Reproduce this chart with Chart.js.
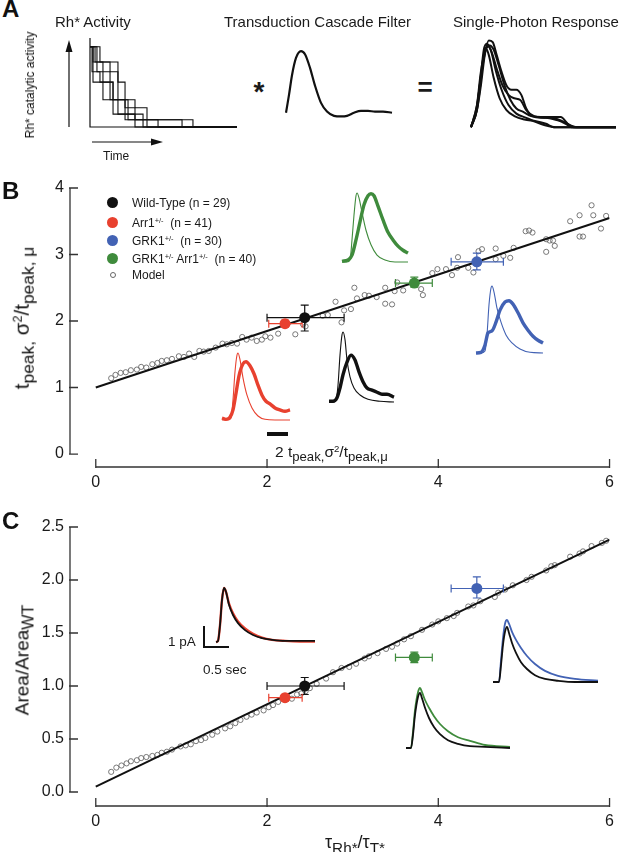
<!DOCTYPE html>
<html>
<head>
<meta charset="utf-8">
<script src="https://cdn.jsdelivr.net/npm/chart.js@4.4.1/dist/chart.umd.min.js"></script>
<style>
  body { margin:0; width:620px; height:852px; position:relative; overflow:hidden; background:#fff;
         font-family:"Liberation Sans", Arial, Helvetica, sans-serif; color:#1a1a1a;
         -webkit-font-smoothing:antialiased; }
  canvas { position:absolute; }
  .t { position:absolute; white-space:nowrap; line-height:1; }
  .panel { font-weight:bold; font-size:24px; color:#111; }
  .ctr { transform: translate(-50%,-50%); }
  .rot { transform: translate(-50%,-50%) rotate(-90deg); color:#111; will-change:transform; }
  sub { font-size:0.85em; vertical-align:-0.3em; line-height:0; }
  sup { font-size:0.62em; vertical-align:0.55em; line-height:0; }
  .dot { position:absolute; width:11px; height:11px; border-radius:50%; }
</style>
</head>
<body>

<canvas id="a1" width="192" height="125" style="left:55px;top:28px"></canvas>
<canvas id="a2" width="114" height="85" style="left:282px;top:41px"></canvas>
<canvas id="a3" width="153" height="105" style="left:467px;top:33px"></canvas>

<canvas id="chartB" width="620" height="330" style="left:0;top:170px"></canvas>
<canvas id="insBred" width="78" height="77" style="left:217px;top:348px"></canvas>
<canvas id="insBblack" width="75" height="80" style="left:324px;top:327px"></canvas>
<canvas id="insBgreen" width="76" height="79" style="left:337px;top:188px"></canvas>
<canvas id="insBblue" width="77" height="77" style="left:471px;top:281px"></canvas>

<canvas id="chartC" width="620" height="330" style="left:0;top:510px"></canvas>
<canvas id="insCred" width="109" height="64" style="left:211px;top:583px"></canvas>
<canvas id="insCblue" width="115" height="72" style="left:488px;top:615px"></canvas>
<canvas id="insCgreen" width="114" height="70" style="left:401px;top:683px"></canvas>

<!-- panel A text -->
<div class="t panel" style="left:2px;top:-3px">A</div>
<div class="t" style="left:55px;top:14px;font-size:15px">Rh* Activity</div>
<div class="t" style="left:224px;top:14px;font-size:15px">Transduction Cascade Filter</div>
<div class="t" style="left:453px;top:14px;font-size:15px">Single-Photon Response</div>
<div class="t rot" style="left:30px;top:85px;font-size:12px">Rh* catalytic activity</div>
<div class="t" style="left:103px;top:150px;font-size:12px">Time</div>
<div class="t ctr" style="left:259px;top:92px;font-size:28px;font-weight:bold">*</div>
<div class="t ctr" style="left:425px;top:87px;font-size:26px;font-weight:bold">=</div>

<!-- panel B text -->
<div class="t panel" style="left:2px;top:179px">B</div>
<div class="t rot" style="left:22px;top:318px;font-size:20.5px">t<sub>peak,</sub> σ<sup>2</sup>/t<sub>peak, μ</sub></div>
<div class="dot" style="left:107px;top:197px;background:#111"></div>
<div class="dot" style="left:107px;top:217px;background:#e8412f"></div>
<div class="dot" style="left:107px;top:235px;background:#4262b4"></div>
<div class="dot" style="left:107px;top:253px;background:#3f8b3c"></div>
<div class="dot" style="left:110px;top:272px;width:4px;height:4px;border:1px solid #666;background:none"></div>
<div class="t" style="left:132px;top:197px;font-size:12px">Wild-Type (n = 29)</div>
<div class="t" style="left:132px;top:217px;font-size:12px">Arr1<sup>+/-</sup>&nbsp; (n = 41)</div>
<div class="t" style="left:132px;top:235px;font-size:12px">GRK1<sup>+/-</sup>&nbsp; (n = 30)</div>
<div class="t" style="left:132px;top:253px;font-size:12px">GRK1<sup>+/-</sup> Arr1<sup>+/-</sup>&nbsp; (n = 40)</div>
<div class="t" style="left:132px;top:269px;font-size:12px">Model</div>
<div style="position:absolute;left:267px;top:432px;width:21px;height:3.5px;background:#111"></div>
<div class="t" style="left:275px;top:444px;font-size:15.5px">2 t<sub>peak,</sub>σ<sup>2</sup>/t<sub>peak,μ</sub></div>

<!-- panel C text -->
<div class="t panel" style="left:2px;top:509px">C</div>
<div class="t rot" style="left:22px;top:660px;font-size:19px">Area/Area<sub>WT</sub></div>
<div class="t ctr" style="left:355px;top:842px;font-size:18px">τ<sub>Rh*</sub>/τ<sub>T*</sub></div>
<div style="position:absolute;left:203px;top:626px;width:2px;height:22px;background:#111"></div>
<div style="position:absolute;left:203px;top:646px;width:26px;height:2px;background:#111"></div>
<div class="t" style="left:168px;top:635px;font-size:13.5px">1 pA</div>
<div class="t" style="left:203px;top:663px;font-size:13.5px">0.5 sec</div>

<script>
// ---------- data ----------
// panel A: Rh* activity step traces (time, level)
const stepT = [
  [0, 0.25, 1.08, 1.92, 2.92, 8.58, 12.25],
  [0, 0.58, 1.67, 3.17, 4.42, 7.67, 12.25],
  [0, 0.83, 2.33, 2.92, 3.75, 5.67, 12.25],
  [0, 0.17, 0.83, 1.92, 2.33, 3.75, 12.25],
  [0, 0.42, 1.67, 2.33, 3.75, 4.75, 12.25],
  [0, 0.25, 1.08, 1.92, 3.17, 4.42, 12.25]
];
const stepL = [
  [1, 0.81, 0.56, 0.34, 0.09, 0, 0],
  [1, 0.69, 0.34, 0.16, 0.09, 0, 0],
  [1, 0.81, 0.56, 0.24, 0.09, 0, 0],
  [1, 0.69, 0.56, 0.34, 0.16, 0, 0],
  [1, 0.81, 0.69, 0.34, 0.24, 0, 0],
  [1, 0.56, 0.34, 0.16, 0.09, 0, 0]
];
// transduction cascade filter
const filterT = [0, 3, 6, 10, 15, 19, 24, 29, 35, 41, 48, 55, 61, 68, 75, 82, 89, 97, 106];
const filterV = [0, 0.29, 0.61, 0.89, 1.0, 0.95, 0.73, 0.44, 0.16, 0.02, -0.05, -0.06, -0.05, 0, 0.03, 0.03, 0.02, 0.02, 0];
// single-photon responses
const sprT = [
  [0, 6, 10, 14, 18, 22, 26, 31, 36, 41, 46, 51, 56, 62, 71, 81, 91, 98, 104, 147],
  [0, 6, 10, 13, 16, 20, 25, 31, 38, 46, 56, 66, 76, 86, 147],
  [0, 6, 10, 13, 15, 18, 23, 29, 36, 44, 54, 66, 76, 84, 147],
  [0, 6, 10, 14, 17, 21, 26, 32, 38, 44, 50, 56, 64, 76, 88, 96, 102, 147],
  [0, 6, 11, 15, 19, 23, 28, 34, 40, 46, 53, 61, 71, 81, 91, 101, 107, 147]
];
const sprV = [
  [0, 0.2, 0.49, 0.85, 1.02, 1.0, 0.85, 0.65, 0.49, 0.44, 0.44, 0.38, 0.22, 0.13, 0.12, 0.12, 0.12, 0.04, 0, 0],
  [0, 0.22, 0.61, 0.91, 0.98, 0.91, 0.67, 0.44, 0.26, 0.16, 0.11, 0.06, 0.02, 0, 0],
  [0, 0.2, 0.55, 0.85, 0.93, 0.85, 0.58, 0.34, 0.2, 0.13, 0.09, 0.07, 0.04, 0, 0],
  [0, 0.26, 0.65, 0.88, 0.95, 0.88, 0.69, 0.49, 0.38, 0.34, 0.32, 0.2, 0.13, 0.11, 0.08, 0.04, 0, 0],
  [0, 0.25, 0.67, 0.91, 0.96, 0.91, 0.73, 0.49, 0.32, 0.22, 0.18, 0.13, 0.11, 0.11, 0.08, 0.02, 0, 0]
];

// panels B and C: groups
const groups = ['Wild-Type', 'Arr1+/-', 'GRK1+/-', 'GRK1+/- Arr1+/-'];
const groupColors = ['#111111', '#e8412f', '#4262b4', '#3f8b3c'];
const tauRatio = [2.44, 2.21, 4.45, 3.72];
const tauLo = [2.00, 2.02, 4.15, 3.50];
const tauHi = [2.90, 2.41, 4.76, 3.93];
const tpeakVal = [2.05, 1.96, 2.89, 2.57];
const tpeakLo = [1.85, 1.91, 2.77, 2.51];
const tpeakHi = [2.24, 2.01, 3.02, 2.66];
const areaVal = [1.00, 0.89, 1.92, 1.27];
const areaLo = [0.92, 0.86, 1.83, 1.22];
const areaHi = [1.08, 0.92, 2.03, 1.32];

// model simulations
const modelBx = [0.18, 0.23, 0.29, 0.35, 0.41, 0.48, 0.53, 0.59, 0.66, 0.72, 0.77, 0.83, 0.89, 0.97, 1.03, 1.09, 1.15, 1.21, 1.26, 1.32, 1.40, 1.48, 1.53, 1.59, 1.65, 1.71, 1.76, 1.82, 1.88, 1.94, 1.98, 2.04, 2.13, 2.33, 2.42,
  2.45, 2.65, 2.71, 2.87, 2.80, 2.90, 2.98, 3.02, 3.05, 3.14, 3.19, 3.28, 3.38, 3.38, 3.46, 3.49, 3.59, 3.52, 3.80, 3.82, 3.93, 3.99, 4.09, 4.16, 4.23, 4.22, 4.35, 4.41, 4.47, 4.51, 4.67, 4.67, 4.76, 4.84, 4.88, 5.02, 5.06, 5.10, 5.26, 5.30, 5.34, 5.26, 5.36, 5.54, 5.65, 5.65, 5.69, 5.79, 5.81, 5.90, 5.96];
const modelBy = [1.14, 1.19, 1.22, 1.23, 1.26, 1.27, 1.31, 1.30, 1.35, 1.37, 1.40, 1.41, 1.43, 1.47, 1.46, 1.51, 1.46, 1.55, 1.54, 1.55, 1.60, 1.66, 1.65, 1.67, 1.66, 1.76, 1.72, 1.75, 1.70, 1.72, 1.77, 1.75, 1.81, 1.80, 1.95,
  1.92, 2.08, 2.09, 1.98, 2.29, 2.16, 2.18, 2.50, 2.34, 2.39, 2.38, 2.36, 2.50, 2.26, 2.25, 2.45, 2.46, 2.58, 2.48, 2.39, 2.72, 2.78, 2.78, 2.69, 2.96, 2.80, 2.80, 2.73, 3.05, 3.08, 3.09, 2.93, 2.98, 2.95, 3.10, 3.35, 3.36, 3.33, 3.23, 3.21, 3.21, 3.04, 3.13, 3.50, 3.59, 3.27, 3.27, 3.74, 3.59, 3.39, 3.58];
const modelCx = [0.18, 0.24, 0.30, 0.36, 0.41, 0.48, 0.53, 0.59, 0.66, 0.72, 0.77, 0.83, 0.89, 0.99, 1.05, 1.11, 1.17, 1.23, 1.28, 1.36, 1.42, 1.51, 1.57, 1.63, 1.69, 1.76, 1.82, 1.88, 1.96, 2.02, 2.07, 2.13, 2.21, 2.29, 2.35, 2.40, 2.45, 2.50, 2.58,
  2.69, 2.77, 2.87, 2.96, 3.04, 3.14, 3.19, 3.29, 3.39, 3.46, 3.52, 3.60, 3.68, 3.81, 3.93, 4.00, 4.10, 4.18, 4.22, 4.35, 4.41, 4.49, 4.66, 4.70, 4.78, 4.87, 5.03, 5.09, 5.26, 5.32, 5.36, 5.54, 5.65, 5.69, 5.79, 5.91, 5.96];
const modelCy = [0.19, 0.23, 0.25, 0.27, 0.29, 0.30, 0.32, 0.33, 0.34, 0.35, 0.37, 0.38, 0.40, 0.43, 0.44, 0.45, 0.48, 0.49, 0.51, 0.54, 0.57, 0.60, 0.62, 0.65, 0.68, 0.71, 0.73, 0.75, 0.77, 0.80, 0.82, 0.85, 0.87, 0.88, 0.92, 0.93, 0.95, 0.98, 1.02,
  1.07, 1.13, 1.17, 1.18, 1.21, 1.26, 1.28, 1.31, 1.35, 1.37, 1.40, 1.44, 1.47, 1.53, 1.58, 1.61, 1.64, 1.66, 1.69, 1.75, 1.76, 1.80, 1.84, 1.88, 1.91, 1.95, 2.00, 2.03, 2.09, 2.13, 2.14, 2.22, 2.25, 2.27, 2.32, 2.35, 2.37];

// linear fits
const fitX = [0, 6];
const fitB = [1.0, 3.55];
const fitC = [0.05, 2.38];

// axis ticks
const xTicks = [0, 2, 4, 6];
const yTicksB = [0, 1, 2, 3, 4];
const yTicksC = [0, 0.5, 1.0, 1.5, 2.0, 2.5];

// inset traces, panel B (thin = normalized, thick = mean)
const bRedThinT = [0, 6, 9, 11, 13, 15, 16, 18, 21, 25, 30, 36, 43, 53, 68];
const bRedThinV = [0, 0, 0.03, 0.3, 0.72, 0.97, 1.0, 0.9, 0.63, 0.37, 0.18, 0.06, 0.01, 0, 0];
const bRedThickT = [0, 4, 8, 11, 14, 17, 21, 24, 28, 32, 36, 40, 44, 48, 53, 58, 63, 68];
const bRedThickV = [0.03, 0.01, 0.04, 0.15, 0.40, 0.66, 0.84, 0.87, 0.81, 0.69, 0.52, 0.37, 0.28, 0.24, 0.18, 0.15, 0.13, 0.15];
const bBlackThinT = [0, 4, 7, 9, 11, 13, 14, 16, 18, 21, 25, 31, 39, 51, 65];
const bBlackThinV = [0, 0, 0.03, 0.24, 0.67, 0.96, 1.0, 0.89, 0.6, 0.36, 0.2, 0.1, 0.04, 0.01, 0];
const bBlackThickT = [0, 4, 8, 11, 14, 18, 22, 26, 30, 34, 38, 43, 48, 53, 58, 65];
const bBlackThickV = [0.01, 0.01, 0.06, 0.2, 0.39, 0.57, 0.67, 0.6, 0.43, 0.29, 0.2, 0.17, 0.14, 0.11, 0.11, 0.07];
const bGreenThinT = [0, 5, 8, 10, 12, 14, 15, 17, 20, 24, 29, 35, 43, 53, 66];
const bGreenThinV = [0, 0, 0.03, 0.32, 0.68, 0.96, 1.0, 0.93, 0.72, 0.46, 0.25, 0.1, 0.03, 0, 0];
const bGreenThickT = [0, 6, 10, 14, 18, 22, 26, 29, 32, 36, 41, 46, 51, 56, 61, 66];
const bGreenThickV = [0.01, 0.03, 0.1, 0.32, 0.58, 0.83, 0.96, 0.99, 0.96, 0.81, 0.61, 0.43, 0.32, 0.23, 0.17, 0.13];
const bBlueThinT = [0, 5, 9, 11, 13, 15, 16, 18, 21, 25, 30, 36, 44, 54, 67];
const bBlueThinV = [0, 0, 0.03, 0.27, 0.72, 0.97, 1.0, 0.91, 0.67, 0.46, 0.27, 0.15, 0.06, 0.01, 0];
const bBlueThickT = [0, 5, 9, 12, 16, 20, 24, 29, 33, 37, 42, 47, 52, 57, 62, 67];
const bBlueThickV = [0, 0.01, 0.12, 0.3, 0.33, 0.46, 0.64, 0.76, 0.78, 0.73, 0.6, 0.45, 0.34, 0.25, 0.19, 0.15];

// inset traces, panel C (mean responses vs wild type)
const cRedT = [0, 2, 4, 6, 8, 10, 13, 17, 22, 29, 37, 46, 56, 69, 84, 99];
const cRedV = [0, 0.02, 0.31, 0.78, 1.0, 0.93, 0.71, 0.53, 0.38, 0.25, 0.15, 0.08, 0.04, 0.02, 0.01, 0.01];
const cRedWtV = [0, 0.02, 0.31, 0.78, 1.0, 0.93, 0.69, 0.5, 0.35, 0.22, 0.13, 0.07, 0.04, 0.02, 0.02, 0.02];
const cBlueT = [0, 6, 8, 10, 12, 14, 16, 19, 23, 28, 34, 42, 52, 65, 82, 105];
const cBlueV = [0, 0, 0.35, 0.71, 0.94, 1.0, 0.94, 0.81, 0.68, 0.55, 0.42, 0.29, 0.18, 0.1, 0.05, 0.02];
const cBlueWtV = [0, 0, 0.27, 0.6, 0.81, 0.89, 0.79, 0.63, 0.47, 0.32, 0.21, 0.11, 0.05, 0.02, 0, 0];
const cGreenT = [0, 5, 7, 9, 12, 14, 16, 19, 23, 28, 34, 42, 52, 64, 79, 104];
const cGreenV = [0, 0, 0.27, 0.63, 0.93, 1.0, 0.93, 0.8, 0.67, 0.53, 0.4, 0.28, 0.18, 0.12, 0.05, 0.02];
const cGreenWtV = [0, 0, 0.22, 0.55, 0.85, 0.92, 0.83, 0.67, 0.5, 0.35, 0.23, 0.13, 0.07, 0.03, 0.02, 0];

// ---------- helpers ----------
Chart.defaults.font.family = '"Liberation Sans", Arial, sans-serif';
Chart.defaults.color = '#1a1a1a';

const pts = (xs, ys) => xs.map((x, i) => ({ x: x, y: ys[i] }));

function bareOptions(xMin, xMax, yMin, yMax, pad) {
  return {
    animation: false, responsive: false, events: [],
    layout: { padding: pad },
    plugins: { legend: { display: false }, tooltip: { enabled: false } },
    scales: {
      x: { type: 'linear', display: false, min: xMin, max: xMax },
      y: { display: false, min: yMin, max: yMax }
    }
  };
}

function trace(t, v, color, width, mode) {
  return {
    data: pts(t, v), borderColor: color, borderWidth: width, pointRadius: 0,
    clip: false, cubicInterpolationMode: mode || 'monotone', fill: false
  };
}

function inset(id, traces, tMax) {
  new Chart(document.getElementById(id), {
    type: 'line',
    data: { datasets: traces },
    options: bareOptions(0, tMax, 0, 1, 5)
  });
}

// ---------- panel A ----------
const arrowPlugin = {
  id: 'arrows',
  afterDraw(chart) {
    const { ctx, chartArea: ca } = chart;
    ctx.save();
    ctx.strokeStyle = '#111'; ctx.fillStyle = '#111'; ctx.lineWidth = 1.2;
    ctx.beginPath();
    ctx.moveTo(ca.left, ca.top); ctx.lineTo(ca.left, ca.bottom); ctx.lineTo(ca.right, ca.bottom);
    const ax = ca.left - 21;
    ctx.moveTo(ax, ca.bottom); ctx.lineTo(ax, ca.top + 12);
    const ay = ca.bottom + 15;
    ctx.moveTo(ca.left + 2, ay); ctx.lineTo(ca.left + 62, ay);
    ctx.stroke();
    ctx.beginPath();
    ctx.moveTo(ax, ca.top + 2); ctx.lineTo(ax - 3.5, ca.top + 14); ctx.lineTo(ax + 3.5, ca.top + 14); ctx.closePath();
    ctx.moveTo(ca.left + 73, ay); ctx.lineTo(ca.left + 61, ay - 3.5); ctx.lineTo(ca.left + 61, ay + 3.5); ctx.closePath();
    ctx.fill();
    ctx.restore();
  }
};

new Chart(document.getElementById('a1'), {
  type: 'line',
  data: { datasets: stepT.map((t, i) => ({
    data: pts(t, stepL[i]), stepped: 'before', borderColor: '#111', borderWidth: 1.1, pointRadius: 0, clip: false
  })) },
  options: bareOptions(0, 12.25, 0, 1.11, { left: 35, right: 10, top: 10, bottom: 26 }),
  plugins: [arrowPlugin]
});

new Chart(document.getElementById('a2'), {
  type: 'line',
  data: { datasets: [trace(filterT, filterV, '#111', 2.2)] },
  options: bareOptions(0, 106, -0.15, 1.1, 4)
});

new Chart(document.getElementById('a3'), {
  type: 'line',
  data: { datasets: sprT.map((t, i) => trace(t, sprV[i], '#111', 2)) },
  options: bareOptions(0, 147, -0.08, 1.06, 4)
});

// ---------- panels B and C ----------
const axisPlugin = {
  id: 'axisDraw',
  afterDraw(chart) {
    const { ctx, chartArea: ca } = chart;
    const xs = chart.scales.x, ys = chart.scales.y;
    const yt = ys.ticks.map(t => ys.getPixelForValue(t.value));
    const xt = xs.ticks.map(t => xs.getPixelForValue(t.value));
    ctx.save();
    ctx.strokeStyle = '#333'; ctx.lineWidth = 1.3;
    ctx.beginPath();
    ctx.moveTo(ca.left, Math.min(...yt)); ctx.lineTo(ca.left, Math.max(...yt));
    yt.forEach(p => { ctx.moveTo(ca.left - 1, p); ctx.lineTo(ca.left + 8, p); });
    ctx.moveTo(Math.min(...xt), ca.bottom); ctx.lineTo(Math.max(...xt), ca.bottom);
    xt.forEach(p => { ctx.moveTo(p, ca.bottom + 1); ctx.lineTo(p, ca.bottom - 8); });
    ctx.stroke();
    ctx.restore();
  }
};

function errPlugin(yv, ylo, yhi) {
  return {
    id: 'errBars',
    beforeDatasetDraw(chart, args) {
      if (args.index !== 0) return;
      const { ctx } = chart;
      const xs = chart.scales.x, ys = chart.scales.y;
      ctx.save();
      ctx.lineWidth = 1.2;
      tauRatio.forEach((xv, i) => {
        const px = xs.getPixelForValue(xv), py = ys.getPixelForValue(yv[i]);
        const x0 = xs.getPixelForValue(tauLo[i]), x1 = xs.getPixelForValue(tauHi[i]);
        const y0 = ys.getPixelForValue(ylo[i]), y1 = ys.getPixelForValue(yhi[i]);
        ctx.strokeStyle = groupColors[i];
        ctx.beginPath();
        ctx.moveTo(x0, py); ctx.lineTo(x1, py);
        ctx.moveTo(x0, py - 4); ctx.lineTo(x0, py + 4);
        ctx.moveTo(x1, py - 4); ctx.lineTo(x1, py + 4);
        ctx.moveTo(px, y0); ctx.lineTo(px, y1);
        ctx.moveTo(px - 4, y0); ctx.lineTo(px + 4, y0);
        ctx.moveTo(px - 4, y1); ctx.lineTo(px + 4, y1);
        ctx.stroke();
      });
      ctx.restore();
    }
  };
}

function scatterPanel(id, yv, ylo, yhi, fitY, mx, my, yMin, yMax, yTicks, yFmt, padTop, xH) {
  return new Chart(document.getElementById(id), {
    type: 'scatter',
    data: { datasets: [
      { data: pts(tauRatio, yv), pointRadius: 5.5, pointBackgroundColor: groupColors, pointBorderWidth: 0, order: 0 },
      { data: pts(fitX, fitY), showLine: true, borderColor: '#111', borderWidth: 2, pointRadius: 0, order: 1 },
      { data: pts(mx, my), pointRadius: 2.6, pointBackgroundColor: 'rgba(255,255,255,0)',
        pointBorderColor: '#6a6a6a', pointBorderWidth: 0.9, order: 2 }
    ] },
    options: {
      animation: false, responsive: false, events: [],
      layout: { padding: { top: padTop, right: 6, left: 0, bottom: 0 } },
      plugins: { legend: { display: false }, tooltip: { enabled: false } },
      scales: {
        x: {
          type: 'linear', min: -0.301, max: 6,
          grid: { display: false, drawTicks: false }, border: { display: false },
          ticks: { font: { size: 16 }, color: '#1a1a1a', padding: 6 },
          afterBuildTicks: s => { s.ticks = xTicks.map(v => ({ value: v })); },
          afterFit: s => { s.height = xH; }
        },
        y: {
          min: yMin, max: yMax,
          grid: { display: false, drawTicks: false }, border: { display: false },
          ticks: { font: { size: 16 }, color: '#1a1a1a', padding: 6, callback: yFmt },
          afterBuildTicks: s => { s.ticks = yTicks.map(v => ({ value: v })); },
          afterFit: s => { s.width = 70; }
        }
      }
    },
    plugins: [axisPlugin, errPlugin(yv, ylo, yhi)]
  });
}

scatterPanel('chartB', tpeakVal, tpeakLo, tpeakHi, fitB, modelBx, modelBy, -0.195, 4, yTicksB,
  v => String(v), 18, 33);
scatterPanel('chartC', areaVal, areaLo, areaHi, fitC, modelCx, modelCy, -0.132, 2.5, yTicksC,
  v => v.toFixed(1), 17, 34);

// insets, panel B
inset('insBred', [trace(bRedThinT, bRedThinV, '#e8412f', 1.1), trace(bRedThickT, bRedThickV, '#e8412f', 3.4)], 68);
inset('insBblack', [trace(bBlackThinT, bBlackThinV, '#111', 1.1), trace(bBlackThickT, bBlackThickV, '#111', 3.4)], 65);
inset('insBgreen', [trace(bGreenThinT, bGreenThinV, '#3f8b3c', 1.1), trace(bGreenThickT, bGreenThickV, '#3f8b3c', 3.4)], 66);
inset('insBblue', [trace(bBlueThinT, bBlueThinV, '#4262b4', 1.1), trace(bBlueThickT, bBlueThickV, '#4262b4', 3.4)], 67);

// insets, panel C (wild type drawn on top)
inset('insCred', [trace(cRedT, cRedWtV, '#111', 1.8), trace(cRedT, cRedV, '#e8412f', 2.4)], 99);
inset('insCblue', [trace(cBlueT, cBlueWtV, '#111', 1.8), trace(cBlueT, cBlueV, '#4262b4', 1.8)], 105);
inset('insCgreen', [trace(cGreenT, cGreenWtV, '#111', 1.8), trace(cGreenT, cGreenV, '#3f8b3c', 1.8)], 104);
</script>
</body>
</html>
